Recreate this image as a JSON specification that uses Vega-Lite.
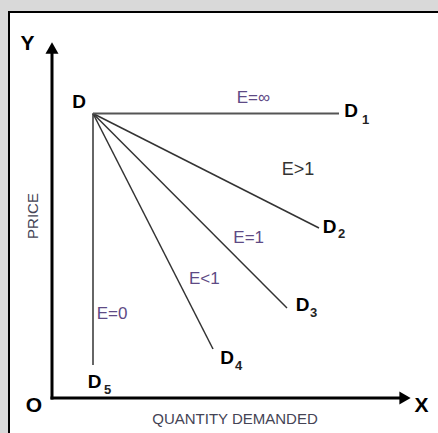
{
  "$schema": "https://vega.github.io/schema/vega-lite/v6.json",
  "autosize": "none",
  "width": 440,
  "height": 430,
  "padding": {"left": 9, "top": 12, "right": 0, "bottom": 0},
  "background": "#d9d9d9",
  "config": {
    "view": {"stroke": "black", "strokeWidth": 2, "fill": "white"},
    "text": {"font": "Liberation Sans"}
  },
  "datasets": {
    "demand": [
      {"curve": "D1", "q": 4.1, "p": 28.45, "q2": 28.7, "p2": 28.45},
      {"curve": "D2", "q": 4.1, "p": 28.45, "q2": 26.7, "p2": 17.0},
      {"curve": "D3", "q": 4.1, "p": 28.45, "q2": 23.5, "p2": 9.0},
      {"curve": "D4", "q": 4.1, "p": 28.45, "q2": 16.1, "p2": 4.9},
      {"curve": "D5", "q": 4.1, "p": 28.45, "q2": 4.1, "p2": 3.3}
    ],
    "axes": [
      {"axis": "Y", "q": 0, "p": 0, "q2": 0, "p2": 35.0},
      {"axis": "X", "q": 0, "p": 0, "q2": 35.3, "p2": 0}
    ],
    "arrows": [
      {"axis": "Y", "q": 0, "p": 35.0},
      {"axis": "X", "q": 35.3, "p": 0}
    ],
    "bigLetters": [
      {"label": "Y", "q": -2.45, "p": 35.4},
      {"label": "X", "q": 36.95, "p": -0.75},
      {"label": "O", "q": -1.8, "p": -0.75}
    ],
    "dLetters": [
      {"label": "D", "q": 2.7, "p": 29.6},
      {"label": "D", "q": 29.9, "p": 28.67},
      {"label": "D", "q": 27.75, "p": 17.15},
      {"label": "D", "q": 25.05, "p": 9.3},
      {"label": "D", "q": 17.5, "p": 4.0},
      {"label": "D", "q": 4.25, "p": 1.65}
    ],
    "subs": [
      {"label": "1", "q": 31.35, "p": 27.8},
      {"label": "2", "q": 28.95, "p": 16.4},
      {"label": "3", "q": 26.15, "p": 8.5},
      {"label": "4", "q": 18.65, "p": 3.2},
      {"label": "5", "q": 5.55, "p": 0.8}
    ],
    "elasticity": [
      {"label": "E=∞", "q": 18.47, "p": 29.97},
      {"label": "E=1", "q": 18.13, "p": 16.0},
      {"label": "E<1", "q": 13.7, "p": 11.88},
      {"label": "E=0", "q": 4.47, "p": 8.45}
    ],
    "elastic": [
      {"label": "E>1", "q": 22.97, "p": 22.85}
    ],
    "xTitle": [
      {"label": "QUANTITY DEMANDED", "q": 18.3, "p": -2.1}
    ],
    "yTitle": [
      {"label": "PRICE", "q": -1.87, "p": 18.2}
    ]
  },
  "encoding": {
    "x": {"field": "q", "type": "quantitative", "scale": {"domain": [-4.3, 39.7], "nice": false, "zero": false}, "axis": null},
    "y": {"field": "p", "type": "quantitative", "scale": {"domain": [-4.4, 38.6], "nice": false, "zero": false}, "axis": null}
  },
  "layer": [
    {
      "data": {"name": "demand"},
      "transform": [{"filter": "datum.curve !== 'D1'"}],
      "mark": {"type": "rule", "color": "#333333", "strokeWidth": 1.5},
      "encoding": {"x2": {"field": "q2"}, "y2": {"field": "p2"}}
    },
    {
      "data": {"name": "demand"},
      "transform": [{"filter": "datum.curve === 'D1'"}],
      "mark": {"type": "rule", "color": "#555555", "strokeWidth": 2.2},
      "encoding": {"x2": {"field": "q2"}, "y2": {"field": "p2"}}
    },
    {
      "data": {"name": "axes"},
      "mark": {"type": "rule", "color": "black", "strokeWidth": 3, "strokeCap": "square"},
      "encoding": {"x2": {"field": "q2"}, "y2": {"field": "p2"}}
    },
    {
      "data": {"name": "arrows"},
      "mark": {"type": "point", "filled": true, "color": "black", "opacity": 1, "size": 170},
      "encoding": {
        "shape": {"field": "axis", "type": "nominal", "scale": {"domain": ["X", "Y"], "range": ["triangle-right", "triangle-up"]}, "legend": null}
      }
    },
    {
      "data": {"name": "bigLetters"},
      "mark": {"type": "text", "fontWeight": "bold", "fontSize": 21, "color": "black", "align": "center", "baseline": "middle"},
      "encoding": {"text": {"field": "label"}}
    },
    {
      "data": {"name": "dLetters"},
      "mark": {"type": "text", "fontWeight": "bold", "fontSize": 19, "color": "black", "align": "center", "baseline": "middle"},
      "encoding": {"text": {"field": "label"}}
    },
    {
      "data": {"name": "subs"},
      "mark": {"type": "text", "fontWeight": "bold", "fontSize": 13, "color": "#222222", "align": "center", "baseline": "middle"},
      "encoding": {"text": {"field": "label"}}
    },
    {
      "data": {"name": "elasticity"},
      "mark": {"type": "text", "fontSize": 17, "color": "#5e4a85", "align": "left", "baseline": "middle"},
      "encoding": {"text": {"field": "label"}}
    },
    {
      "data": {"name": "elastic"},
      "mark": {"type": "text", "fontSize": 18, "color": "#333333", "align": "left", "baseline": "middle"},
      "encoding": {"text": {"field": "label"}}
    },
    {
      "data": {"name": "xTitle"},
      "mark": {"type": "text", "fontSize": 15, "color": "#444455", "align": "center", "baseline": "middle"},
      "encoding": {"text": {"field": "label"}}
    },
    {
      "data": {"name": "yTitle"},
      "mark": {"type": "text", "fontSize": 15, "color": "#444455", "align": "center", "baseline": "middle", "angle": 270},
      "encoding": {"text": {"field": "label"}}
    }
  ]
}
